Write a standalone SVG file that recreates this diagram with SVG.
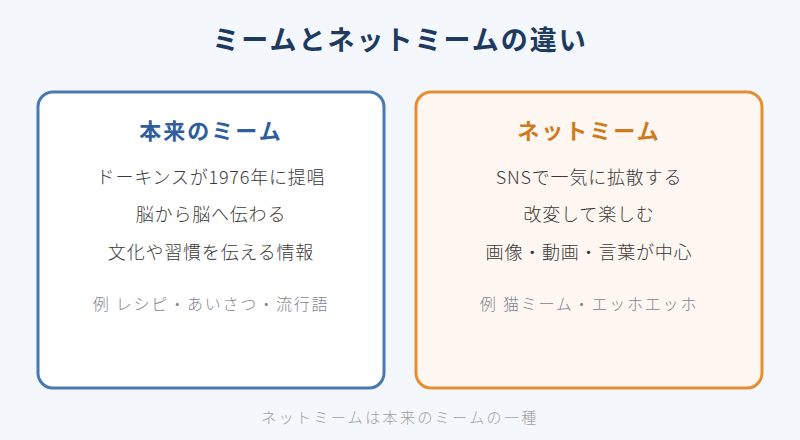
<svg xmlns="http://www.w3.org/2000/svg" width="800" height="440" viewBox="0 0 800 440">
<style>
text{font-family:"Noto Sans CJK JP","Noto Sans",sans-serif;text-anchor:middle}
.title{font-size:27px;font-weight:700;fill:#1e3a5f;letter-spacing:2px}
.h{font-size:22px;font-weight:700;letter-spacing:2px}
.b{font-size:18px;font-weight:300;fill:#3a3a3a;letter-spacing:0.8px}
.ex{font-size:16px;font-weight:300;fill:#7f8590;letter-spacing:1.8px}
.foot{font-size:15px;font-weight:300;fill:#a0a0a0;letter-spacing:2.4px}
</style>
<rect width="800" height="440" fill="#f4f7fb"/>
<text class="title" x="400" y="50">ミームとネットミームの違い</text>
<g id="original">
<rect x="38" y="92" width="346" height="296" rx="15" fill="#ffffff" stroke="#4a78b5" stroke-width="3"/>
<text class="h" x="211" y="139" fill="#2e5e9e">本来のミーム</text>
<text class="b" x="211" y="184">ドーキンスが1976年に提唱</text>
<text class="b" x="211" y="221">脳から脳へ伝わる</text>
<text class="b" x="211" y="259">文化や習慣を伝える情報</text>
<text class="ex" x="211" y="310">例 レシピ・あいさつ・流行語</text>
</g>
<g id="net">
<rect x="416" y="92" width="346" height="296" rx="15" fill="#fef6f0" stroke="#e38f32" stroke-width="3"/>
<text class="h" x="589" y="139" fill="#d07a1e">ネットミーム</text>
<text class="b" x="589" y="184">SNSで一気に拡散する</text>
<text class="b" x="589" y="221">改変して楽しむ</text>
<text class="b" x="589" y="259">画像・動画・言葉が中心</text>
<text class="ex" x="589" y="310">例 猫ミーム・エッホエッホ</text>
</g>
<text class="foot" x="400" y="423">ネットミームは本来のミームの一種</text>
</svg>
